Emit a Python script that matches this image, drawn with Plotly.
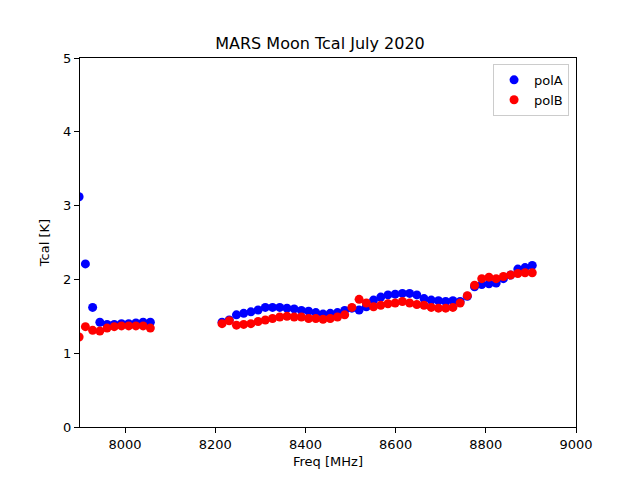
import plotly.graph_objects as go

freq_a = [7898, 7912, 7928, 7944, 7960, 7976, 7992, 8008, 8024, 8040, 8056]
freq_b = [8215 + 16 * i for i in range(44)]
freq = freq_a + freq_b

pol_a = [3.12, 2.21, 1.62, 1.42, 1.39, 1.39, 1.40, 1.40, 1.41, 1.42, 1.42,
         1.42, 1.45, 1.52, 1.54, 1.56, 1.585, 1.62, 1.62, 1.62, 1.61, 1.60,
         1.58, 1.57, 1.55, 1.53, 1.54, 1.55, 1.58, 1.61, 1.585, 1.63, 1.72,
         1.76, 1.79, 1.80, 1.81, 1.81, 1.79, 1.74, 1.72, 1.71, 1.70, 1.71,
         1.70, 1.77, 1.90, 1.93, 1.94, 1.95, 2.01, 2.06, 2.14, 2.16, 2.19]

pol_b = [1.22, 1.36, 1.31, 1.30, 1.34, 1.36, 1.37, 1.37, 1.37, 1.37, 1.34,
         1.40, 1.44, 1.38, 1.39, 1.40, 1.43, 1.45, 1.47, 1.49, 1.50, 1.49,
         1.49, 1.47, 1.47, 1.46, 1.47, 1.49, 1.52, 1.62, 1.73, 1.68, 1.63,
         1.65, 1.67, 1.68, 1.70, 1.68, 1.66, 1.65, 1.62, 1.61, 1.61, 1.62,
         1.68, 1.78, 1.92, 2.01, 2.03, 2.01, 2.04, 2.06, 2.08, 2.09, 2.09]

x_ticks = [8000, 8200, 8400, 8600, 8800, 9000]
y_ticks = [0, 1, 2, 3, 4, 5]

fig = go.Figure()
fig.add_trace(go.Scatter(x=freq, y=pol_a, mode="markers", name="polA",
                         marker=dict(color="#0000ff", size=9)))
fig.add_trace(go.Scatter(x=freq, y=pol_b, mode="markers", name="polB",
                         marker=dict(color="#ff0000", size=9)))

axis_common = dict(showgrid=False, zeroline=False, showline=True, linecolor="black",
                   linewidth=1, mirror=True, ticks="outside", ticklen=5, tickwidth=1,
                   tickcolor="black", tickfont=dict(size=13, color="black"))

fig.update_layout(
    width=640, height=480,
    margin=dict(l=80, r=64, t=58, b=53),
    paper_bgcolor="white", plot_bgcolor="white",
    font=dict(family="DejaVu Sans", color="black", size=13),
    title=dict(text="MARS Moon Tcal July 2020", x=0.5, xanchor="center",
               y=1 - 43 / 480, yanchor="middle", font=dict(size=16)),
    xaxis=dict(range=[7900, 9000], tickvals=x_ticks,
               title=dict(text="Freq [MHz]", standoff=6, font=dict(size=13)), **axis_common),
    yaxis=dict(range=[0, 5], tickvals=y_ticks,
               title=dict(text="Tcal [K]", standoff=10, font=dict(size=13)), **axis_common),
    legend=dict(x=0.986, y=0.984, xanchor="right", yanchor="top",
                bordercolor="#cccccc", borderwidth=1, bgcolor="white",
                font=dict(size=13)),
    showlegend=True,
)

fig.write_html("out.html")
